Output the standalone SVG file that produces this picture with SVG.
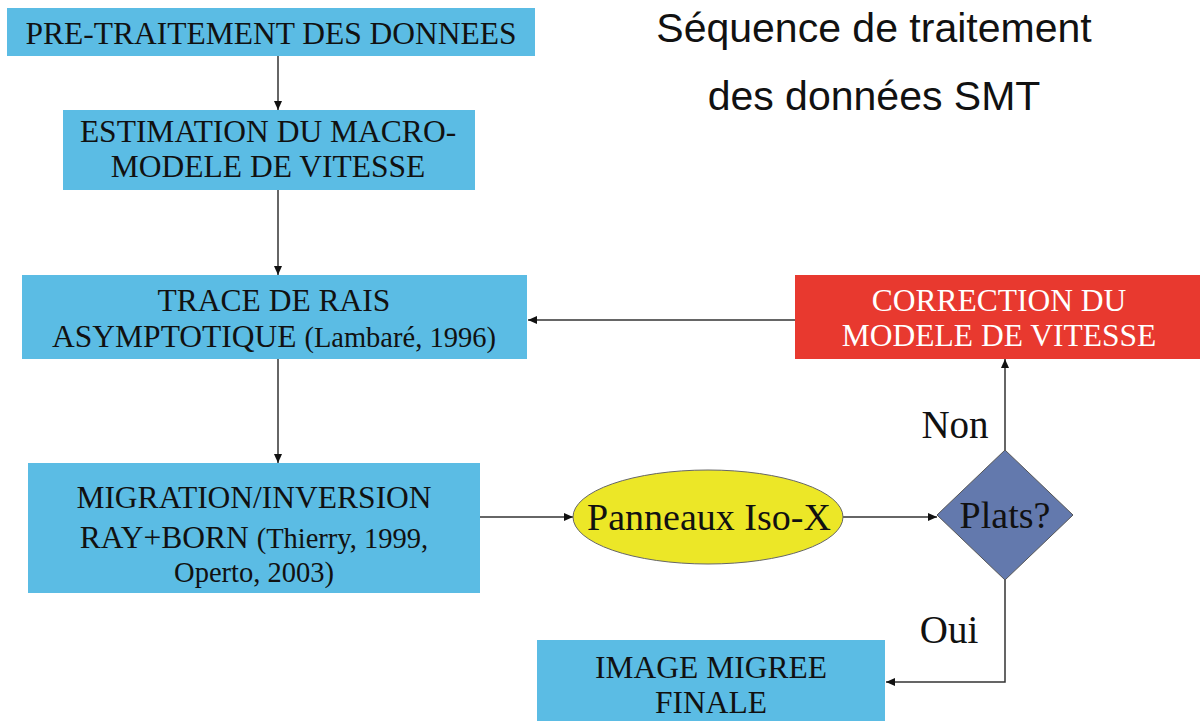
<svg xmlns="http://www.w3.org/2000/svg" width="1200" height="721" viewBox="0 0 1200 721">
<defs>
<style>
.box{fill:#5bbce4}
.t{font-family:"Liberation Serif","Times New Roman",serif;font-size:31.5px;fill:#111;text-anchor:middle}
.s{font-size:28.5px}
.w{fill:#fff}
.title{font-family:"Liberation Sans",Arial,sans-serif;font-size:41px;fill:#111;text-anchor:middle}
.c{stroke:#333;stroke-width:1.5;fill:none;marker-end:url(#ah)}
.lbl{font-family:"Liberation Serif","Times New Roman",serif;font-size:39px;fill:#111;text-anchor:middle}
</style>
<marker id="ah" markerWidth="10" markerHeight="10" refX="9" refY="5" orient="auto" markerUnits="userSpaceOnUse">
<path d="M0,1 L9,5 L0,9 Z" fill="#111"/>
</marker>
</defs>
<rect width="1200" height="721" fill="#fff"/>
<g id="title">
<text class="title" x="874" y="42">Séquence de traitement</text>
<text class="title" x="874" y="110">des données SMT</text>
</g>
<g id="connectors">
<line class="c" x1="278" y1="56" x2="278" y2="110"/>
<line class="c" x1="278" y1="190" x2="278" y2="275"/>
<line class="c" x1="278" y1="359" x2="278" y2="463"/>
<line class="c" x1="480" y1="517" x2="573" y2="517"/>
<line class="c" x1="843" y1="517" x2="937" y2="517"/>
<line class="c" x1="1005" y1="450" x2="1005" y2="359"/>
<line class="c" x1="795" y1="320" x2="528" y2="320"/>
<polyline class="c" points="1005,580 1005,682 886,682"/>
<text class="lbl" x="955" y="438">Non</text>
<text class="lbl" x="949" y="643">Oui</text>
</g>
<g id="n1">
<rect class="box" x="7" y="8" width="528" height="48"/>
<text class="t" x="271" y="44">PRE-TRAITEMENT DES DONNEES</text>
</g>
<g id="n2">
<rect class="box" x="63" y="110" width="412" height="80"/>
<text class="t" x="268" y="142">ESTIMATION DU MACRO-</text>
<text class="t" x="268" y="177">MODELE DE VITESSE</text>
</g>
<g id="n3">
<rect class="box" x="22" y="275" width="505" height="84"/>
<text class="t" x="274" y="311">TRACE DE RAIS</text>
<text class="t" x="274" y="347">ASYMPTOTIQUE <tspan class="s">(Lambaré, 1996)</tspan></text>
</g>
<g id="n4">
<rect class="box" x="28" y="463" width="452" height="130"/>
<text class="t" x="254" y="508">MIGRATION/INVERSION</text>
<text class="t" x="254" y="548">RAY+BORN <tspan class="s">(Thierry, 1999,</tspan></text>
<text class="t s" x="254" y="582">Operto, 2003)</text>
</g>
<g id="n5">
<ellipse cx="708" cy="517" rx="135" ry="47" fill="#ece727" stroke="#666" stroke-width="1"/>
<text class="t" x="709" y="530" style="font-size:38px">Panneaux Iso-X</text>
</g>
<g id="n6">
<polygon points="1005,450 1073,515 1005,580 937,515" fill="#6379ad" stroke="#555" stroke-width="1"/>
<text class="t" x="1005" y="528" style="font-size:38px">Plats?</text>
</g>
<g id="n7">
<rect x="795" y="275" width="405" height="84" fill="#e8392f"/>
<text class="t w" x="999" y="311">CORRECTION DU</text>
<text class="t w" x="999" y="346">MODELE DE VITESSE</text>
</g>
<g id="n8">
<rect class="box" x="537" y="640" width="348" height="81"/>
<text class="t" x="711" y="678">IMAGE MIGREE</text>
<text class="t" x="711" y="713">FINALE</text>
</g>
</svg>
